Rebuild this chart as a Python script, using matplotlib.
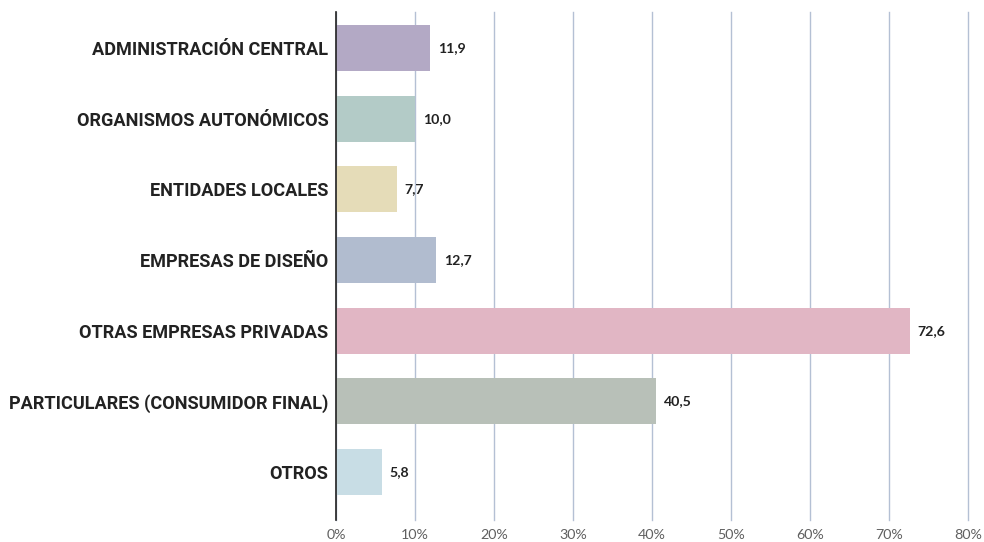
import matplotlib
matplotlib.use("Agg")
import matplotlib.pyplot as plt
from matplotlib.ticker import FuncFormatter

categories = [
    "ADMINISTRACIÓN CENTRAL",
    "ORGANISMOS AUTONÓMICOS",
    "ENTIDADES LOCALES",
    "EMPRESAS DE DISEÑO",
    "OTRAS EMPRESAS PRIVADAS",
    "PARTICULARES (CONSUMIDOR FINAL)",
    "OTROS",
]
values = [11.9, 10.0, 7.7, 12.7, 72.6, 40.5, 5.8]
colors = ["#b3a9c5", "#b3cbc7", "#e5dcb8", "#b1bccf", "#e1b6c4", "#b8c0b8", "#c8dde5"]
xticks = [0, 10, 20, 30, 40, 50, 60, 70, 80]

fig = plt.figure(figsize=(9.84, 5.42), dpi=100)
ax = fig.add_axes([336 / 984, 1 - 520 / 542, 632 / 984, 508 / 542])

y = list(range(len(categories)))
ax.barh(y, values, height=0.65, color=colors, zorder=2)

for yi, v in zip(y, values):
    ax.text(v + 1.0, yi, f"{v:.1f}".replace(".", ","), va="center", ha="left",
            fontsize=10.2, fontweight="bold", color="#222222", family="Lato")

ax.set_xlim(0, 80)
ax.set_ylim(6.68, -0.51)
ax.set_xticks(xticks)
ax.xaxis.set_major_formatter(FuncFormatter(lambda x, p: f"{int(x)}%"))
ax.set_yticks(y)
ax.set_yticklabels(categories, fontsize=13.1, fontweight="bold", family="Roboto", color="#222222")
ax.grid(axis="x", color="#b4c0d4", linewidth=1, zorder=0)
for gl in ax.get_xgridlines():
    gl.set_clip_on(False)
ax.tick_params(axis="x", length=0, pad=6.5, labelsize=10.3, labelcolor="#606060")
ax.tick_params(axis="y", length=0, pad=5.5)
for lbl in ax.get_xticklabels():
    lbl.set_family("Lato")
for s in ["top", "right", "bottom"]:
    ax.spines[s].set_visible(False)
ax.spines["left"].set_color("#222222")
ax.spines["left"].set_linewidth(1.2)
ax.spines["left"].set_zorder(3)

fig.savefig("out.png", dpi=100)
